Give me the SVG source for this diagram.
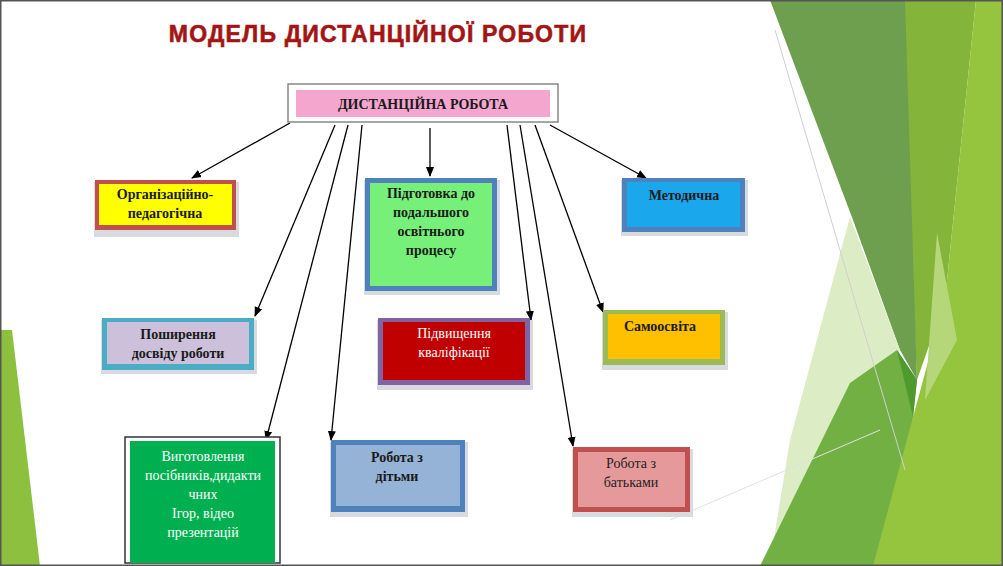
<svg xmlns="http://www.w3.org/2000/svg" width="1003" height="566" viewBox="0 0 1003 566">
<defs>
<marker id="ah" markerWidth="10" markerHeight="10" refX="9" refY="5" orient="auto" markerUnits="userSpaceOnUse"><path d="M0,1 L10,5 L0,9 Z" fill="#000"/></marker>
<style>
.b{font-family:"Liberation Serif",serif;font-weight:bold;font-size:14px;text-anchor:middle;fill:#1a1a1a}
.n{font-family:"Liberation Serif",serif;font-size:14px;text-anchor:middle;fill:#fff}
.sh{fill:#d9d9e0}
.c{stroke:#000;stroke-width:1.3;fill:none;marker-end:url(#ah)}
</style>
</defs>
<rect width="1003" height="566" fill="#fff"/>
<g id="background">
<polygon points="0,330 12,330 40,566 0,566" fill="#8dc03f"/>
<polygon points="900,0 976,0 945,300 917,380" fill="#84b53a"/>
<polygon points="976,0 1003,0 1003,566 850,566 913,417 945,300" fill="#95c43e"/>
<polygon points="937,233 957,340 925,400" fill="#b5d77a"/>
<polygon points="770,0 905,0 917,380 900,350 853,220" fill="#6e9f4e"/>
<polygon points="850,217 900,350 770,563 790,440" fill="#dcecc4"/>
<polygon points="760,566 850,383 897,350 917,380 913,417 873,566" fill="#72b044"/>
<polygon points="897,350 917,380 913,417" fill="#4f9a2e"/>
<line x1="775" y1="30" x2="905" y2="470" stroke="#cfcfcf"/>
<line x1="670" y1="520" x2="880" y2="430" stroke="#e0e0e0"/>
<rect x="0.5" y="0.5" width="1002" height="565" fill="none" stroke="#555" stroke-width="2"/>
</g>
<text x="378" y="42" font-family="Liberation Sans,sans-serif" font-weight="bold" font-size="23" letter-spacing="1.2" text-anchor="middle" fill="#a31515" stroke="#a31515" stroke-width="0.6">МОДЕЛЬ ДИСТАНЦІЙНОЇ РОБОТИ</text>
<g id="connectors">
<line class="c" x1="290" y1="123" x2="192" y2="178"/>
<line class="c" x1="335" y1="125" x2="255" y2="316"/>
<line class="c" x1="348" y1="125" x2="266" y2="440"/>
<line class="c" x1="362" y1="125" x2="331" y2="440"/>
<line class="c" x1="430" y1="128" x2="430" y2="176"/>
<line class="c" x1="507" y1="125" x2="531" y2="320"/>
<line class="c" x1="520" y1="125" x2="573" y2="446"/>
<line class="c" x1="535" y1="125" x2="603" y2="312"/>
<line class="c" x1="550" y1="125" x2="646" y2="178"/>
</g>
<g id="root">
<rect x="288" y="84" width="270" height="38" fill="#fff" stroke="#888" stroke-width="1.5"/>
<rect x="296" y="90" width="254" height="27" fill="#f4a6cf"/>
<text class="b" x="423" y="109">ДИСТАНЦІЙНА РОБОТА</text>
</g>
<g id="n1">
<rect class="sh" x="94" y="182" width="145" height="55"/>
<rect x="95" y="180" width="141" height="50" fill="#c0504d"/>
<rect x="99" y="184" width="133" height="41" fill="#ffff00"/>
<text class="b" x="165" y="199">Організаційно-</text><text class="b" x="165" y="218">педагогічна</text>
</g>
<g id="n2">
<rect class="sh" x="364" y="180" width="136" height="115"/>
<rect x="365" y="178" width="132" height="113" fill="#4f81bd"/>
<rect x="370" y="183" width="122" height="103" fill="#77f07a"/>
<text class="b" x="431" y="198">Підготовка до</text><text class="b" x="431" y="217">подальшого</text><text class="b" x="431" y="236">освітнього</text><text class="b" x="431" y="255">процесу</text>
</g>
<g id="n3">
<rect class="sh" x="621" y="180" width="127" height="56"/>
<rect x="622" y="178" width="123" height="54" fill="#4f81bd"/>
<rect x="627" y="182" width="113" height="45" fill="#1aa7ec"/>
<text class="b" x="684" y="200">Методична</text>
</g>
<g id="n4">
<rect class="sh" x="101" y="320" width="156" height="54"/>
<rect x="102" y="318" width="152" height="52" fill="#4bacc6"/>
<rect x="107" y="322" width="142" height="42" fill="#ccc0da"/>
<text class="b" x="178" y="339">Поширення</text><text class="b" x="178" y="358">досвіду роботи</text>
</g>
<g id="n5">
<rect class="sh" x="377" y="320" width="156" height="70"/>
<rect x="378" y="318" width="152" height="67" fill="#8064a2"/>
<rect x="383" y="322" width="142" height="58" fill="#c00000"/>
<text class="n" x="454" y="338">Підвищення</text><text class="n" x="454" y="357">кваліфікації</text>
</g>
<g id="n6">
<rect class="sh" x="602" y="312" width="126" height="58"/>
<rect x="603" y="310" width="122" height="55" fill="#9bbb59"/>
<rect x="608" y="314" width="112" height="45" fill="#ffc000"/>
<text class="b" x="660" y="331">Самоосвіта</text>
</g>
<g id="n7">
<rect x="125" y="437" width="155" height="126" fill="#fff" stroke="#333" stroke-width="1.5"/>
<rect x="130" y="441" width="145" height="122" fill="#00b050"/>
<text class="n" x="203" y="461">Виготовлення</text><text class="n" x="203" y="480">посібників,дидакти</text><text class="n" x="203" y="499">чних</text><text class="n" x="203" y="518">Ігор, відео</text><text class="n" x="203" y="537">презентацій</text>
</g>
<g id="n8">
<rect class="sh" x="330" y="442" width="138" height="75"/>
<rect x="331" y="440" width="134" height="72" fill="#4f81bd"/>
<rect x="336" y="445" width="124" height="61" fill="#95b3d7"/>
<text class="b" x="397" y="462">Робота з</text><text class="b" x="397" y="481">дітьми</text>
</g>
<g id="n9">
<rect class="sh" x="572" y="449" width="121" height="68"/>
<rect x="573" y="447" width="117" height="65" fill="#c0504d"/>
<rect x="578" y="452" width="107" height="55" fill="#e6999a"/>
<text class="n" x="631" y="468" style="fill:#222">Робота з</text><text class="n" x="631" y="487" style="fill:#222">батьками</text>
</g>
</svg>
